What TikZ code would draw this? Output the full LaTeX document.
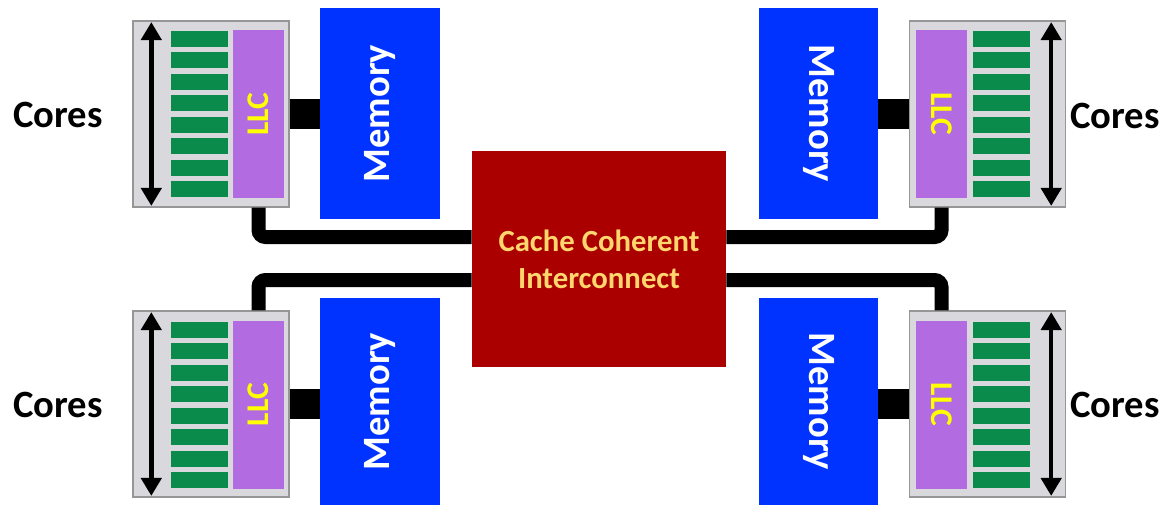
\documentclass[tikz,border=0pt]{standalone}
\usepackage{fontspec}
\setmainfont{Carlito}
\usepackage{graphicx}
\usetikzlibrary{arrows.meta,positioning}
\definecolor{chipgray}{RGB}{217,217,221}
\definecolor{chipedge}{RGB}{150,150,150}
\definecolor{coregreen}{RGB}{10,138,75}
\definecolor{llcpurple}{RGB}{178,107,224}
\definecolor{llcyellow}{RGB}{255,255,0}
\definecolor{memblue}{RGB}{0,51,255}
\definecolor{ccired}{RGB}{170,0,0}
\definecolor{ccitext}{RGB}{255,214,110}
\tikzset{
  chip/.style={
    draw=chipedge,
    fill=chipgray,
    line width=0.8pt,
    inner sep=0pt,
    minimum width=3.12cm,
    minimum height=3.72cm,
  },
  llc/.style={
    fill=llcpurple,
    inner sep=0pt,
    minimum width=1.02cm,
    minimum height=3.36cm,
    text=llcyellow,
    font=\fontsize{18}{18}\selectfont\bfseries,
  },
  core/.style={fill=coregreen, inner sep=0pt, minimum width=1.14cm, minimum height=0.32cm},
  mem/.style={
    fill=memblue,
    inner sep=0pt,
    minimum width=2.4cm,
    minimum height=4.22cm,
    text=white,
    font=\fontsize{22}{22}\selectfont\bfseries,
  },
  cci/.style={
    fill=ccired,
    align=center,
    inner sep=0pt,
    minimum width=5.08cm,
    minimum height=4.32cm,
    text=ccitext,
    font=\fontsize{17.5}{21}\selectfont\bfseries,
  },
  lbl/.style={font=\fontsize{22}{22}\selectfont\bfseries},
  bus/.style={line width=0.28cm, rounded corners=4pt},
  port/.style={line width=0.6cm},
  span/.style={
    {Triangle[length=0.36cm, width=0.4cm]}-{Triangle[length=0.36cm, width=0.4cm]},
    line width=0.09cm,
  },
}
\begin{document}
\begin{tikzpicture}[x=0.02cm, y=-0.02cm]
  \useasboundingbox (0,0) rectangle (1168,505);

  % sockets
  \node[chip] (chipTL) at (211,114) {};
  \node[chip] (chipBL) at (211,404) {};
  \node[chip] (chipTR) at (987.5,114) {};
  \node[chip] (chipBR) at (987.5,404) {};

  \node[llc] (llcTL) at (258.5,114) {\rotatebox{90}{LLC}};
  \node[llc] (llcBL) at (258.5,404.5) {\rotatebox{90}{LLC}};
  \node[llc] (llcTR) at (941.5,114) {\rotatebox{-90}{LLC}};
  \node[llc] (llcBR) at (941.5,404.5) {\rotatebox{-90}{LLC}};

  \foreach \k in {0,...,7} {
    \node[core] (coreTL\k) at (199.5,39+21.45*\k) {};
    \node[core] (coreBL\k) at (199.5,329.5+21.5*\k) {};
    \node[core] (coreTR\k) at (1001,39+21.45*\k) {};
    \node[core] (coreBR\k) at (1001,329.5+21.5*\k) {};
  }

  \draw[span] ([xshift=0.38cm, yshift=-1pt]chipTL.north west) -- ([xshift=0.38cm, yshift=1pt]chipTL.south west);
  \draw[span] ([xshift=0.38cm, yshift=-1pt]chipBL.north west) -- ([xshift=0.38cm, yshift=1pt]chipBL.south west);
  \draw[span] ([xshift=-0.3cm, yshift=-1pt]chipTR.north east) -- ([xshift=-0.3cm, yshift=1pt]chipTR.south east);
  \draw[span] ([xshift=-0.3cm, yshift=-1pt]chipBR.north east) -- ([xshift=-0.3cm, yshift=1pt]chipBR.south east);

  \node[lbl] (lblTL) at (58,115) {Cores};
  \node[lbl] (lblBL) at (58,405) {Cores};
  \node[lbl] (lblTR) at (1115,116) {Cores};
  \node[lbl] (lblBR) at (1115,405) {Cores};

  % memories and interconnect
  \node[mem] (memTL) at (380,113.5) {\rotatebox{90}{Memory}};
  \node[mem, minimum height=4.14cm] (memBL) at (380,401.5) {\rotatebox{90}{Memory}};
  \node[mem, minimum width=2.38cm] (memTR) at (818.5,113.5) {\rotatebox{-90}{Memory}};
  \node[mem, minimum width=2.38cm, minimum height=4.14cm] (memBR) at (818.5,401.5) {\rotatebox{-90}{Memory}};

  \node[cci] (cci) at (599,259) {Cache Coherent\\Interconnect};

  % links
  \draw[port] (chipTL.east) -- (memTL.west |- chipTL.east);
  \draw[port] (chipBL.east) -- (memBL.west |- chipBL.east);
  \draw[port] (chipTR.west) -- (memTR.east |- chipTR.west);
  \draw[port] (chipBR.west) -- (memBR.east |- chipBR.west);

  \draw[bus] (chipTL.south -| llcTL) |- ([yshift=0.44cm]cci.west);
  \draw[bus] (chipBL.north -| llcBL) |- ([yshift=-0.42cm]cci.west);
  \draw[bus] (chipTR.south -| llcTR) |- ([yshift=0.44cm]cci.east);
  \draw[bus] (chipBR.north -| llcBR) |- ([yshift=-0.42cm]cci.east);
\end{tikzpicture}
\end{document}
